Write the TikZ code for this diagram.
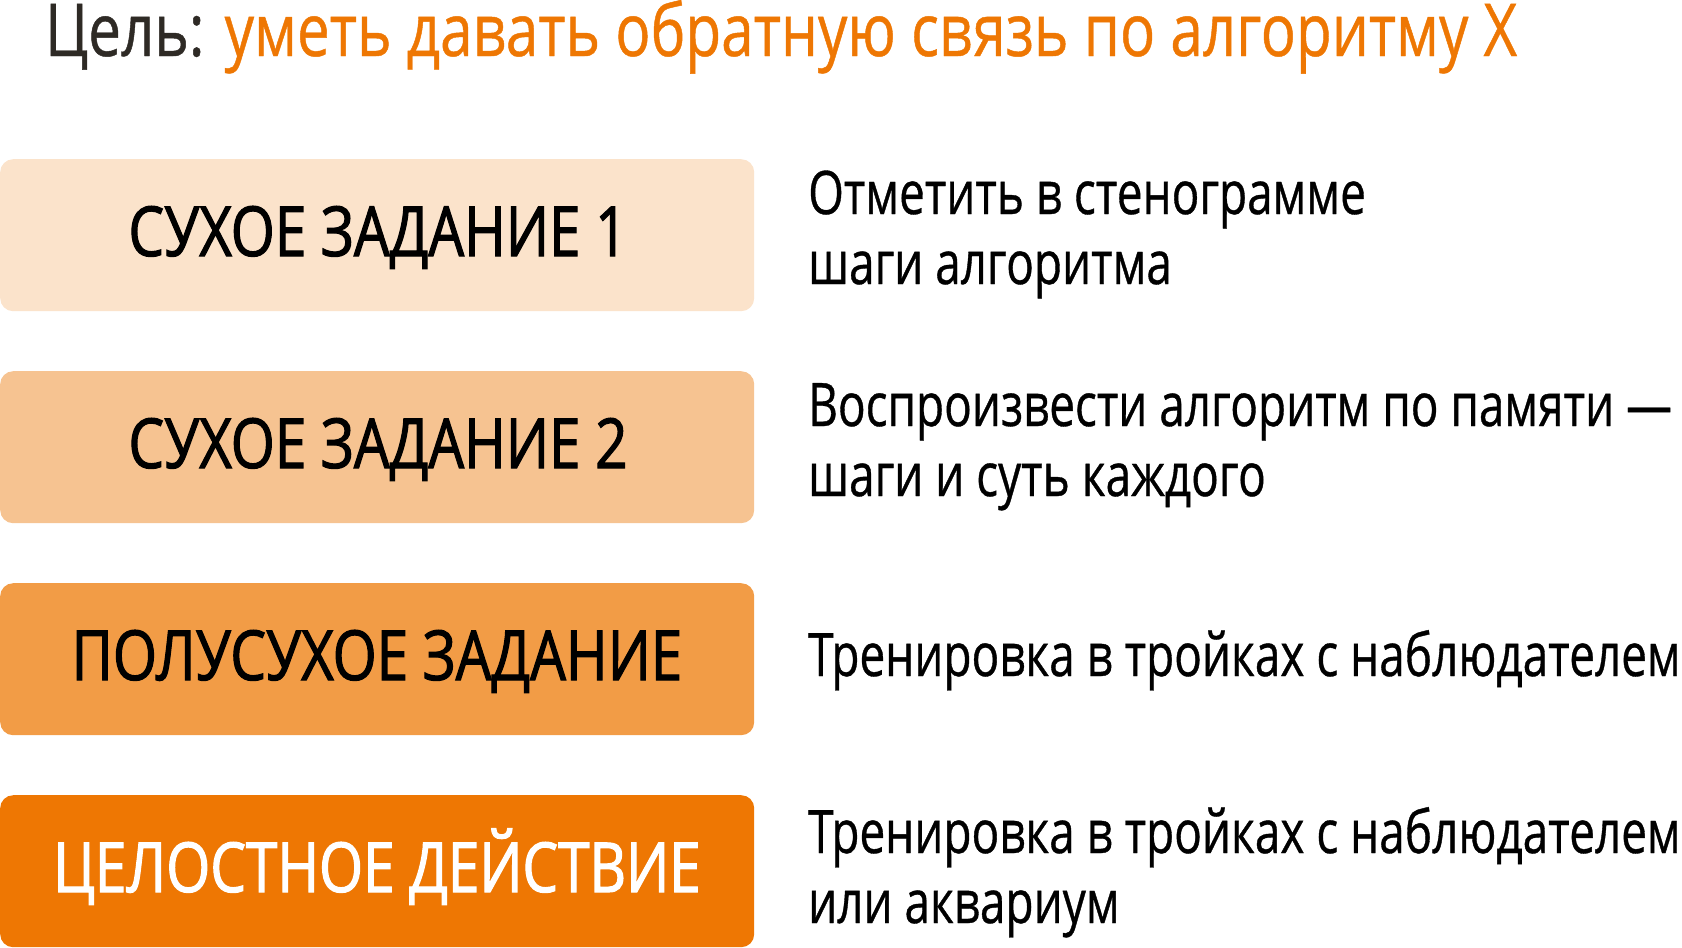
\documentclass[tikz,border=0pt]{standalone}
\usepackage{fontspec}
\newfontfamily\cf[FakeStretch=0.765,FakeBold=0.6]{Open Sans}
\newfontfamily\cfb[FakeStretch=0.82,FakeBold=1.6]{Open Sans}
\newfontfamily\cft[FakeStretch=0.80,FakeBold=0.6]{Open Sans}
\definecolor{ink}{HTML}{2E2A25}
\definecolor{accent}{HTML}{EE7703}
\definecolor{boxA}{HTML}{FBE3CB}
\definecolor{boxB}{HTML}{F6C391}
\definecolor{boxC}{HTML}{F29C46}
\definecolor{boxD}{HTML}{EE7703}
\tikzset{
  stagebox/.style={rectangle, rounded corners=13pt, minimum width=754pt, minimum height=152pt, inner sep=0pt, anchor=north west},
  stagetext/.style={font=\cfb\fontsize{69}{74}\selectfont, inner sep=0pt, anchor=base},
  desc/.style={font=\cf\fontsize{60}{70}\selectfont, inner sep=0pt, align=left, anchor=base west, text=black},
}
\begin{document}
\begin{tikzpicture}[x=1pt,y=-1pt]
\useasboundingbox (0,0) rectangle (1682,948);
\node[inner sep=0pt, anchor=base west, font=\cft\fontsize{73}{80}\selectfont, text=ink] (title) at (45,56) {Цель: \textcolor{accent}{уметь давать обратную связь по алгоритму Х}};

\node[stagebox, fill=boxA] (b1) at (0,159) {};
\node[stagebox, fill=boxB] (b2) at (0,371) {};
\node[stagebox, fill=boxC] (b3) at (0,583) {};
\node[stagebox, fill=boxD] (b4) at (0,795) {};

\node[stagetext, text=black] (t1) at (378,256) {СУХОЕ ЗАДАНИЕ 1};
\node[stagetext, text=black] (t2) at (378,468) {СУХОЕ ЗАДАНИЕ 2};
\node[stagetext, text=black] (t3) at (377,680) {ПОЛУСУХОЕ ЗАДАНИЕ};
\node[stagetext, text=white] (t4) at (377,892) {ЦЕЛОСТНОЕ ДЕЙСТВИЕ};

\node[desc] (d1) at (808,284) {Отметить в стенограмме\\шаги алгоритма};
\node[desc] (d2) at (808,496) {Воспроизвести алгоритм по памяти —\\шаги и суть каждого};
\node[desc] (d3) at (808,676) {Тренировка в тройках с наблюдателем};
\node[desc] (d4) at (808,923) {Тренировка в тройках с наблюдателем\\или аквариум};
\end{tikzpicture}
\end{document}
